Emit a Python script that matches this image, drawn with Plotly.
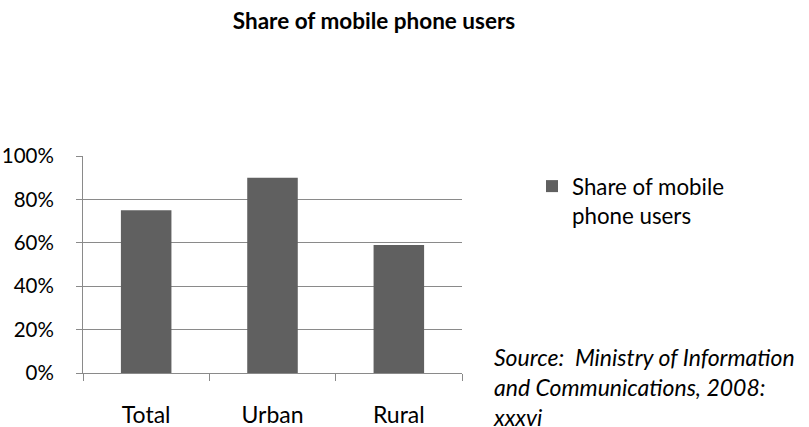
import plotly.graph_objects as go

# Survey results: share of people who use a mobile phone
categories = ["Total", "Urban", "Rural"]
share_values = [0.75, 0.90, 0.59]
series_name = "Share of mobile<br>phone users"
y_tick_values = [0, 0.2, 0.4, 0.6, 0.8, 1.0]
y_tick_labels = ["0%", "20%", "40%", "60%", "80%", "100%"]

FONT = "Lato, 'Liberation Sans', sans-serif"
BAR_COLOR = "#606060"
GRID_COLOR = "#8a8a8a"

# plot area in pixels (left, right, top, bottom)
PL, PR, PT, PB = 83, 462, 156, 373
W, H = 809, 427

fig = go.Figure()
fig.add_trace(go.Bar(
    x=categories,
    y=share_values,
    name=series_name,
    marker=dict(color=BAR_COLOR, line=dict(width=0)),
    width=0.4,
    showlegend=True,
))

fig.update_layout(
    width=W,
    height=H,
    margin=dict(l=PL, r=W - PR, t=PT, b=H - PB, autoexpand=False),
    paper_bgcolor="white",
    plot_bgcolor="white",
    font=dict(family=FONT, size=22, color="#000000"),
    title=dict(
        text="<b>Share of mobile phone users</b>",
        x=374 / W, xanchor="center", xref="container",
        y=1 - 21 / H, yanchor="middle", yref="container",
        font=dict(family=FONT, size=22.5, color="#000000"),
    ),
    showlegend=True,
    legend=dict(
        x=(532 - PL) / (PR - PL), xanchor="left", xref="paper",
        y=0.958, yanchor="top",
        valign="top",
        bgcolor="rgba(0,0,0,0)",
        font=dict(family=FONT, size=22.3),
        itemclick=False,
    ),
)

fig.update_xaxes(
    type="category",
    automargin=False,
    showline=True, linecolor=GRID_COLOR, linewidth=1,
    ticks="outside", tickson="boundaries", ticklen=7, tickcolor=GRID_COLOR,
    ticklabelstandoff=21,
    tickfont=dict(size=23),
    showgrid=False,
    zeroline=False,
    fixedrange=True,
)
fig.update_yaxes(
    range=[0, 1.0],
    automargin=False,
    tickvals=y_tick_values,
    ticktext=y_tick_labels,
    showline=True, linecolor=GRID_COLOR, linewidth=1,
    ticks="outside", ticklen=6, tickcolor=GRID_COLOR,
    ticklabelstandoff=18,
    tickfont=dict(size=20.5),
    showgrid=True, gridcolor=GRID_COLOR, gridwidth=1,
    zeroline=False,
    fixedrange=True,
)

fig.add_annotation(
    text="<i>Source:  Ministry of Information<br>and Communications, 2008:<br>xxxvi</i>",
    xref="paper", yref="paper",
    x=(491 - PL) / (PR - PL), xanchor="left",
    y=(PB - 387) / (PB - PT), yanchor="middle",
    align="left", showarrow=False,
    font=dict(family=FONT, size=23, color="#000000"),
)

fig.write_html("out.html", config={"displayModeBar": False})
